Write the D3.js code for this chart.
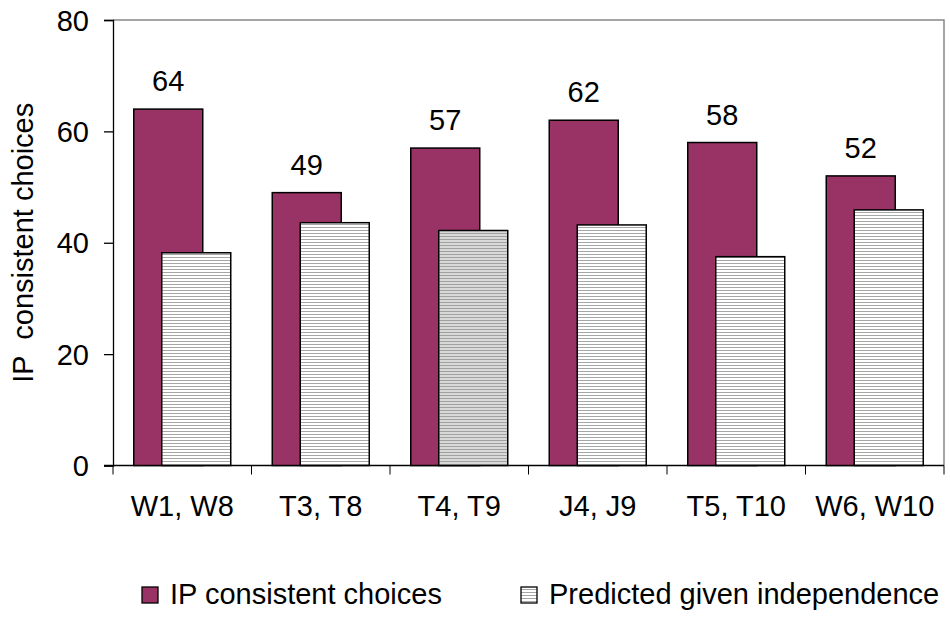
<!DOCTYPE html>
<html>
<head>
<meta charset="utf-8">
<script src="https://cdn.jsdelivr.net/npm/d3@7"></script>
<style>
  body { margin: 0; background: #fff; }
  svg { font-family: "Liberation Sans", Arial, sans-serif; }
</style>
</head>
<body>
<div id="chart"></div>
<script>
// data
var categories = ["W1, W8", "T3, T8", "T4, T9", "J4, J9", "T5, T10", "W6, W10"];
var ipChoices = [64, 49, 57, 62, 58, 52];
var predicted = [38.2, 43.6, 42.2, 43.2, 37.5, 45.9];
var yTicks = [0, 20, 40, 60, 80];
var seriesNames = ["IP consistent choices", "Predicted given independence"];

var width = 950, height = 617;
var plotLeft = 113, plotRight = 944, plotTop = 20, plotBottom = 465.5;

var svg = d3.select("#chart").append("svg")
    .attr("width", width)
    .attr("height", height);

// hatch patterns for the second series
var defs = svg.append("defs");
function hatch(id, bg, line) {
    var p = defs.append("pattern")
        .attr("id", id)
        .attr("patternUnits", "userSpaceOnUse")
        .attr("width", 6).attr("height", 3);
    p.append("rect").attr("width", 6).attr("height", 3).attr("fill", bg);
    p.append("rect").attr("y", 2).attr("width", 6).attr("height", 1).attr("fill", line);
}
hatch("hatchLight", "#ffffff", "#a6a6a6");
hatch("hatchDark", "#d9d9d9", "#a0a0a0");

var x = d3.scaleBand().domain(categories).range([plotLeft, plotRight]);
var y = d3.scaleLinear().domain([0, 80]).range([plotBottom, plotTop]);

var barW = 69, shift = 28;

// plot frame (top and right edges)
svg.append("path")
    .attr("d", "M" + plotLeft + "," + plotTop + "H" + plotRight + "V" + plotBottom)
    .attr("fill", "none")
    .attr("stroke", "#888")
    .attr("stroke-width", 1.5);

var yAxis = svg.append("g")
    .attr("transform", "translate(" + plotLeft + ",0)")
    .call(d3.axisLeft(y).tickValues(yTicks).tickSize(9).tickPadding(15));
yAxis.selectAll("text").style("font-size", "29px").attr("fill", "#000").attr("dy", "0.35em");

var xAxis = svg.append("g")
    .attr("transform", "translate(0," + plotBottom + ")")
    .call(d3.axisBottom(x).tickSize(0).tickPadding(30));
xAxis.selectAll("text").style("font-size", "29px").attr("fill", "#000");
xAxis.select(".domain").remove();

// category separator ticks
svg.selectAll(".catTick")
    .data(d3.range(categories.length + 1))
    .enter().append("line")
    .attr("x1", function (i) { return plotLeft + i * x.step(); })
    .attr("x2", function (i) { return plotLeft + i * x.step(); })
    .attr("y1", plotBottom)
    .attr("y2", plotBottom + 9)
    .attr("stroke", "#000");

svg.selectAll(".domain, .tick line").attr("stroke", "#000").attr("stroke-width", 1.3);
svg.append("line")
    .attr("x1", plotLeft - 9).attr("x2", plotRight)
    .attr("y1", plotBottom).attr("y2", plotBottom)
    .attr("stroke", "#000").attr("stroke-width", 1.3);

function cx(d) { return x(d) + x.bandwidth() / 2; }

// IP consistent bars
svg.selectAll(".ip")
    .data(categories)
    .enter().append("rect")
    .attr("x", function (d) { return cx(d) - shift / 2 - barW / 2; })
    .attr("y", function (d, i) { return y(ipChoices[i]); })
    .attr("width", barW)
    .attr("height", function (d, i) { return plotBottom - y(ipChoices[i]); })
    .attr("fill", "#993366")
    .attr("stroke", "#000")
    .attr("stroke-width", 1.5);

// predicted bars
svg.selectAll(".pred")
    .data(categories)
    .enter().append("rect")
    .attr("x", function (d) { return cx(d) + shift / 2 - barW / 2; })
    .attr("y", function (d, i) { return y(predicted[i]); })
    .attr("width", barW)
    .attr("height", function (d, i) { return plotBottom - y(predicted[i]); })
    .attr("fill", function (d, i) { return i === 2 ? "url(#hatchDark)" : "url(#hatchLight)"; })
    .attr("stroke", "#000")
    .attr("stroke-width", 1.5);

// value labels
svg.selectAll(".lbl")
    .data(categories)
    .enter().append("text")
    .attr("x", function (d) { return cx(d) - shift / 2; })
    .attr("y", function (d, i) { return y(ipChoices[i]) - 18; })
    .attr("text-anchor", "middle")
    .style("font-size", "29px")
    .text(function (d, i) { return ipChoices[i]; });

// y title
svg.append("text")
    .attr("transform", "translate(33," + ((plotTop + plotBottom) / 2) + ") rotate(-90)")
    .attr("text-anchor", "middle")
    .style("font-size", "29px")
    .style("white-space", "pre")
    .text("IP  consistent choices");

// legend
var legX = [142, 521];
var leg = svg.selectAll(".leg")
    .data(seriesNames)
    .enter().append("g")
    .attr("transform", function (d, i) { return "translate(" + legX[i] + ",587)"; });
leg.append("rect")
    .attr("width", 16).attr("height", 16)
    .attr("fill", function (d, i) { return i === 0 ? "#993366" : "url(#hatchLight)"; })
    .attr("stroke", "#000").attr("stroke-width", 1.3);
leg.append("text")
    .attr("x", 28).attr("y", 17)
    .style("font-size", "29px")
    .text(function (d) { return d; });
</script>
</body>
</html>
